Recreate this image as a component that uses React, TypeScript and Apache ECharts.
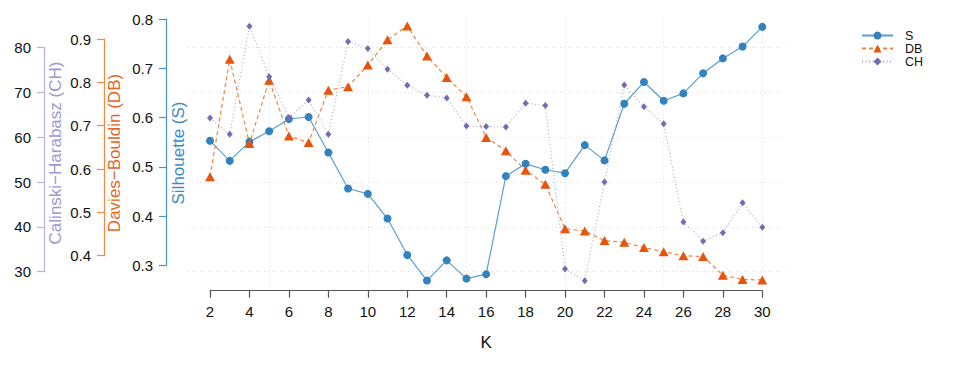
import React, { useEffect, useRef } from "react";
import * as echarts from "echarts";

const K = [2, 3, 4, 5, 6, 7, 8, 9, 10, 11, 12, 13, 14, 15, 16, 17, 18, 19, 20, 21, 22, 23, 24, 25, 26, 27, 28, 29, 30];
const S = [0.553, 0.512, 0.551, 0.572, 0.597, 0.601, 0.529, 0.456, 0.445, 0.395, 0.321, 0.269, 0.310, 0.273, 0.282, 0.481, 0.506, 0.494, 0.487, 0.544, 0.513, 0.628, 0.672, 0.634, 0.649, 0.690, 0.720, 0.744, 0.784];
const DB = [0.582, 0.853, 0.659, 0.805, 0.676, 0.661, 0.782, 0.790, 0.840, 0.898, 0.930, 0.861, 0.811, 0.767, 0.673, 0.642, 0.597, 0.565, 0.462, 0.457, 0.435, 0.431, 0.419, 0.409, 0.400, 0.398, 0.355, 0.345, 0.344];
const CH = [64.3, 60.7, 84.8, 73.5, 64.4, 68.3, 60.7, 81.4, 79.8, 75.2, 71.6, 69.4, 68.8, 62.5, 62.4, 62.3, 67.6, 67.1, 30.6, 28.0, 50.0, 71.7, 66.8, 63.0, 41.1, 36.8, 38.7, 45.4, 39.9];

const S_TICKS = [0.3, 0.8];
const DB_TICKS = [0.4, 0.9];
const CH_TICKS = [30, 80];
const K_RANGE = [2, 30];

const C_S = "#3182bd";
const C_DB = "#e6550d";
const C_CH = "#756bb1";
const FONT = "Liberation Sans, Arial, Helvetica, sans-serif";

export default function App() {
  const ref = useRef<HTMLDivElement>(null);
  useEffect(() => {
    if (!ref.current) return;
    const chart = echarts.init(ref.current, undefined, { renderer: "svg" });

    // layout (pixels)
    const kLeft = 210;
    const kRight = 762.3;
    const ppu = (kRight - kLeft) / (K_RANGE[1] - K_RANGE[0]);
    const pad = 1.12;
    const plotTop = 18;
    const plotBottom = 288;
    const xAxisY = 290.7;

    const hiddenX = (grid: number, min: number, max: number) => ({
      type: "value", gridIndex: grid, min, max, show: false,
    });
    const hiddenY = (grid: number) => ({
      type: "value", gridIndex: grid, min: 0, max: 1, show: false,
    });

    const yAxisStyle = (color: string) => ({
      axisLine: { show: true, lineStyle: { color, width: 1.2 } },
      axisTick: { show: true, length: 7, lineStyle: { color, width: 1.2 } },
      axisLabel: { color: "#111", fontSize: 15, margin: 13, fontFamily: FONT },
    });

    const pts = (vals: number[]) => K.map((k, i) => [k, vals[i]]);

    const option: any = {
      animation: false,
      textStyle: { fontFamily: FONT },
      grid: [
        {
          left: kLeft - pad * ppu,
          width: (kRight - kLeft) + 2 * pad * ppu,
          top: 47.7,
          height: 271.7 - 47.7,
        },
        { left: kLeft, width: kRight - kLeft, top: 39, height: 255.7 - 39 },
        { left: kLeft, width: kRight - kLeft, top: 19, height: 265.3 - 19 },
        { left: kLeft, width: kRight - kLeft, top: plotTop, height: xAxisY - plotTop },
        { left: kLeft - 2 * ppu, width: kRight - kLeft + 2 * ppu, top: plotTop, height: plotBottom - plotTop },
      ],
      xAxis: [
        hiddenX(0, K_RANGE[0] - pad, K_RANGE[1] + pad),
        hiddenX(1, K_RANGE[0], K_RANGE[1]),
        hiddenX(2, K_RANGE[0], K_RANGE[1]),
        {
          type: "value", gridIndex: 3, min: K_RANGE[0], max: K_RANGE[1], interval: 2,
          position: "bottom",
          axisLine: { show: true, onZero: false, lineStyle: { color: "#555", width: 1.2 } },
          axisTick: { show: true, length: 7, lineStyle: { color: "#555", width: 1.2 } },
          axisLabel: { color: "#111", fontSize: 15, margin: 13, fontFamily: FONT },
          splitLine: { show: false },
          name: "K", nameLocation: "middle", nameGap: 43,
          nameTextStyle: { color: "#111", fontSize: 17, fontFamily: FONT },
        },
        {
          type: "value", gridIndex: 4, min: 0, max: 30, interval: 5,
          axisLine: { show: false }, axisTick: { show: false }, axisLabel: { show: false },
          splitLine: { show: true, showMinLine: false, lineStyle: { color: "#dcdcdc", type: [1, 3], width: 1 } },
        },
      ],
      yAxis: [
        {
          type: "value", gridIndex: 0, min: CH_TICKS[0], max: CH_TICKS[1], interval: 10,
          position: "left", offset: kLeft - pad * ppu - 44,
          ...yAxisStyle("#b7b2dd"),
          splitLine: { show: true, lineStyle: { color: "#dcdcdc", type: [1, 3], width: 1 } },
        },
        {
          type: "value", gridIndex: 1, min: DB_TICKS[0], max: DB_TICKS[1], interval: 0.1,
          position: "left", offset: kLeft - 104,
          ...yAxisStyle("#f28a45"),
          splitLine: { show: false },
        },
        {
          type: "value", gridIndex: 2, min: S_TICKS[0], max: S_TICKS[1], interval: 0.1,
          position: "left", offset: kLeft - 166,
          ...yAxisStyle("#4a93c8"),
          splitLine: { show: false },
        },
        hiddenY(3),
        hiddenY(4),
      ],
      legend: {
        orient: "vertical",
        left: 856,
        top: 24,
        itemWidth: 31,
        itemHeight: 10,
        itemGap: 0,
        textStyle: { fontSize: 12.5, lineHeight: 13, color: "#111", fontFamily: FONT, padding: [0, 0, 0, 7] },
        data: ["S", "DB", "CH"],
      },
      series: [
        {
          name: "S", type: "line", xAxisIndex: 2, yAxisIndex: 2, clip: false,
          data: pts(S), symbol: "circle", symbolSize: 8,
          itemStyle: { color: C_S },
          lineStyle: { color: "#5a9fd0", width: 1.2, type: "solid" },
          z: 3,
        },
        {
          name: "DB", type: "line", xAxisIndex: 1, yAxisIndex: 1, clip: false,
          data: pts(DB), symbol: "triangle", symbolSize: [10, 9],
          itemStyle: { color: C_DB },
          lineStyle: { color: "#ef8540", width: 1.2, type: [4, 3] },
          z: 4,
        },
        {
          name: "CH", type: "line", xAxisIndex: 0, yAxisIndex: 0, clip: false,
          data: pts(CH), symbol: "diamond", symbolSize: [6, 7],
          itemStyle: { color: C_CH },
          lineStyle: { color: "#a9a3d6", width: 1.1, type: [1, 2.5] },
          z: 5,
        },
      ],
      graphic: [
        {
          type: "text", x: 55, y: 153, rotation: Math.PI / 2,
          style: {
            text: "Calinski−Harabasz (CH)", fill: "#9e98cf", fontSize: 17, fontFamily: FONT,
            align: "center", verticalAlign: "middle", textAlign: "center", textVerticalAlign: "middle",
          },
        },
        {
          type: "text", x: 114, y: 153, rotation: Math.PI / 2,
          style: {
            text: "Davies−Bouldin (DB)", fill: "#e8651f", fontSize: 17, fontFamily: FONT,
            align: "center", verticalAlign: "middle", textAlign: "center", textVerticalAlign: "middle",
          },
        },
        {
          type: "text", x: 178, y: 153, rotation: Math.PI / 2,
          style: {
            text: "Silhouette (S)", fill: "#3a8bc4", fontSize: 17, fontFamily: FONT,
            align: "center", verticalAlign: "middle", textAlign: "center", textVerticalAlign: "middle",
          },
        },
      ],
    };

    chart.setOption(option);
    return () => chart.dispose();
  }, []);

  return (
    <div
      ref={ref}
      style={{ position: "fixed", left: 0, top: 0, width: 972, height: 370, background: "#fff" }}
    />
  );
}
